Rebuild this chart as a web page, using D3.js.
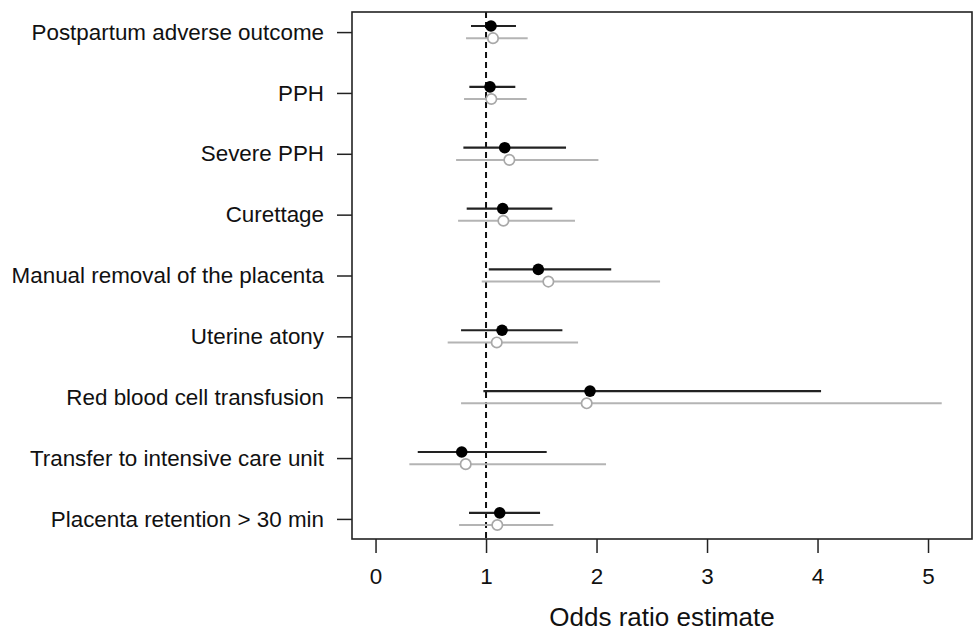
<!DOCTYPE html>
<html>
<head>
<meta charset="utf-8">
<script src="https://cdn.jsdelivr.net/npm/d3@7"></script>
<style>
  body { margin: 0; background: #fff; }
  svg { display: block; font-family: 'Liberation Sans', Arial, Helvetica, sans-serif; }
</style>
</head>
<body>
<svg id="chart" width="973" height="632"></svg>
<script>
// outcomes, top to bottom
var outcomes = [
  'Postpartum adverse outcome',
  'PPH',
  'Severe PPH',
  'Curettage',
  'Manual removal of the placenta',
  'Uterine atony',
  'Red blood cell transfusion',
  'Transfer to intensive care unit',
  'Placenta retention > 30 min'
]

// first model (black, filled)
var orA = [1.045, 1.036, 1.169, 1.151, 1.473, 1.145, 1.941, 0.780, 1.124]
var loA = [0.864, 0.849, 0.795, 0.825, 1.025, 0.774, 0.976, 0.382, 0.846]
var hiA = [1.271, 1.265, 1.724, 1.600, 2.133, 1.691, 4.032, 1.549, 1.489]

// second model (grey, open)
var orB = [1.063, 1.048, 1.211, 1.157, 1.564, 1.097, 1.911, 0.816, 1.102]
var loB = [0.819, 0.801, 0.729, 0.747, 0.961, 0.653, 0.774, 0.306, 0.756]
var hiB = [1.377, 1.368, 2.017, 1.805, 2.575, 1.833, 5.124, 2.086, 1.609]

var xTicks = [0, 1, 2, 3, 4, 5]
var xTitle = 'Odds ratio estimate'

;(function () {
  var svg = d3.select('#chart')
  var box = {left: 352, right: 972, top: 12, bottom: 539}

  var x = d3.scaleLinear()
      .domain([-0.213, 5.398])
      .range([box.left, box.right])

  var y = d3.scaleLinear()
      .domain([0.67, 9.33])
      .range([box.top, box.bottom])

  var off = 0.1 // vertical shift between the two estimates

  var rows = outcomes.map((name, i) => ({
    name: name,
    pos: i + 1,
    a: {or: orA[i], lo: loA[i], hi: hiA[i]},
    b: {or: orB[i], lo: loB[i], hi: hiB[i]}
  }))

  /*
      --------------------------------------
      Axes
  */
  var xAxis = d3.axisBottom(x)
      .tickValues(xTicks)
      .tickFormat(d3.format('d'))
      .tickSize(14)
      .tickPadding(15)

  var gx = svg.append('g')
      .attr('transform', `translate(0,${box.bottom})`)
      .call(xAxis)
  gx.select('.domain').remove()
  gx.selectAll('line').attr('stroke', '#222').attr('stroke-width', 1.5)
  gx.selectAll('text').attr('font-size', 22.4).attr('fill', '#111')
      .attr('font-family', null)

  var yAxis = d3.axisLeft(y)
      .tickValues(rows.map(d => d.pos))
      .tickFormat((d, i) => outcomes[i])
      .tickSize(15)
      .tickPadding(13)

  var gy = svg.append('g')
      .attr('transform', `translate(${box.left},0)`)
      .call(yAxis)
  gy.select('.domain').remove()
  gy.selectAll('line').attr('stroke', '#222').attr('stroke-width', 1.5)
  gy.selectAll('text').attr('font-size', 22.4).attr('fill', '#111')
      .attr('font-family', null)

  svg.append('text')
      .attr('x', (box.left + box.right) / 2)
      .attr('y', 626)
      .attr('text-anchor', 'middle')
      .attr('font-size', 26)
      .attr('fill', '#111')
      .text(xTitle)

  /*
      --------------------------------------
      Reference line at OR = 1
  */
  svg.append('line')
      .attr('x1', x(1)).attr('x2', x(1))
      .attr('y1', box.top).attr('y2', box.bottom)
      .attr('stroke', '#111')
      .attr('stroke-width', 2)
      .attr('stroke-dasharray', '6,4')

  /*
      --------------------------------------
      Intervals and estimates
  */
  var items = svg.append('g').selectAll('.item')
      .data(rows)
      .enter()
      .append('g')
      .classed('item', true)

  // grey model
  items.append('line')
      .attr('x1', d => x(d.b.lo))
      .attr('x2', d => x(d.b.hi))
      .attr('y1', d => y(d.pos + off))
      .attr('y2', d => y(d.pos + off))
      .attr('stroke', '#b4b4b4')
      .attr('stroke-width', 2)

  items.append('circle')
      .attr('cx', d => x(d.b.or))
      .attr('cy', d => y(d.pos + off))
      .attr('r', 5.2)
      .attr('fill', '#fff')
      .attr('stroke', '#a8a8a8')
      .attr('stroke-width', 1.7)

  // black model
  items.append('line')
      .attr('x1', d => x(d.a.lo))
      .attr('x2', d => x(d.a.hi))
      .attr('y1', d => y(d.pos - off))
      .attr('y2', d => y(d.pos - off))
      .attr('stroke', '#222')
      .attr('stroke-width', 2.2)

  items.append('circle')
      .attr('cx', d => x(d.a.or))
      .attr('cy', d => y(d.pos - off))
      .attr('r', 5.8)
      .attr('fill', '#000')

  // plot frame
  svg.append('rect')
      .attr('x', box.left)
      .attr('y', box.top)
      .attr('width', box.right - box.left)
      .attr('height', box.bottom - box.top)
      .attr('fill', 'none')
      .attr('stroke', '#222')
      .attr('stroke-width', 1.6)
})()
</script>
</body>
</html>
